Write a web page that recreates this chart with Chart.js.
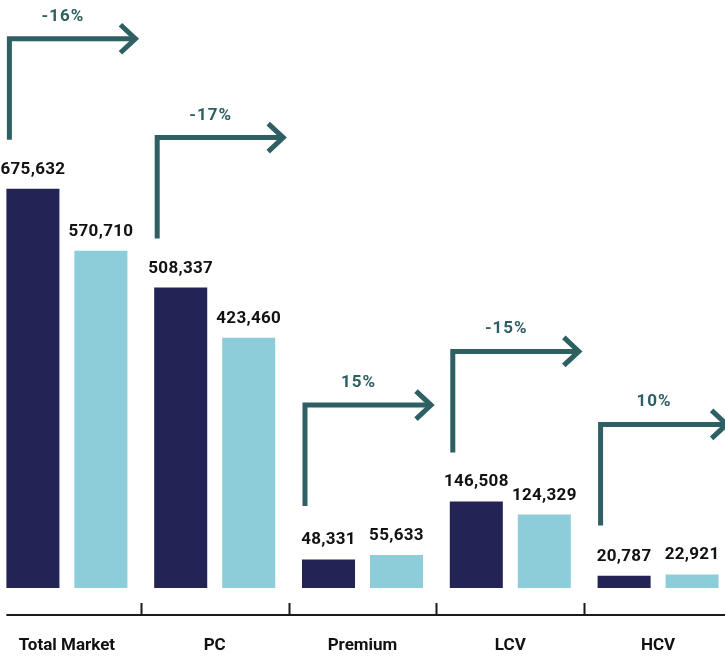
<!DOCTYPE html>
<html>
<head>
<meta charset="utf-8">
<script src="https://cdn.jsdelivr.net/npm/chart.js@4.4.0/dist/chart.umd.min.js"></script>
<style>
  html, body { margin: 0; padding: 0; background: #fff; overflow: hidden; }
  #wrap { width: 739px; height: 657px; margin-left: -7px; }
</style>
</head>
<body>
<div id="wrap"><canvas id="barChart"></canvas></div>
<script>
const categories = ['Total Market', 'PC', 'Premium', 'LCV', 'HCV'];
const previousYear = [675632, 508337, 48331, 146508, 20787];
const currentYear = [570710, 423460, 55633, 124329, 22921];
const changeLabels = ['-16%', '-17%', '15%', '-15%', '10%'];

const darkColor = '#232356';
const lightColor = '#8dcdd9';
const arrowColor = '#2d5f63';
const labelFont = 'Roboto, "Liberation Sans", sans-serif';

// value labels above bars + the growth arrows
const labelsAndArrows = {
  id: 'labelsAndArrows',
  afterDatasetsDraw(chart) {
    const ctx = chart.ctx;
    const dark = chart.getDatasetMeta(0).data;
    const light = chart.getDatasetMeta(1).data;

    ctx.save();
    ctx.textAlign = 'center';
    ctx.textBaseline = 'alphabetic';
    ctx.font = 'bold 17px ' + labelFont;
    ctx.letterSpacing = '0.3px';
    ctx.fillStyle = '#111';
    chart.data.datasets.forEach((ds, i) => {
      chart.getDatasetMeta(i).data.forEach((bar, j) => {
        ctx.fillText(ds.data[j].toLocaleString('en-US'), bar.x, bar.y - 15);
      });
    });

    ctx.strokeStyle = arrowColor;
    ctx.fillStyle = arrowColor;
    ctx.lineWidth = 5;
    ctx.lineJoin = 'miter';
    ctx.font = 'bold 17px ' + labelFont;
    ctx.letterSpacing = '1px';
    dark.forEach((bar, j) => {
      const x0 = bar.x - bar.width / 2 + 3;
      const x1 = light[j].x + light[j].width / 2 + 8;
      const yBottom = Math.min(bar.y, light[j].y) - 49;
      const yTop = yBottom - 101;

      ctx.beginPath();
      ctx.moveTo(x0, yBottom);
      ctx.lineTo(x0, yTop);
      ctx.lineTo(x1 - 3, yTop);
      ctx.stroke();

      ctx.beginPath();
      ctx.moveTo(x1 - 15, yTop - 14);
      ctx.lineTo(x1, yTop);
      ctx.lineTo(x1 - 15, yTop + 14);
      ctx.stroke();

      ctx.fillText(changeLabels[j], (bar.x + light[j].x) / 2 - 4, yTop - 18);
    });
    ctx.restore();
  }
};

// baseline with small separators between categories, plus category names
const categoryAxis = {
  id: 'categoryAxis',
  afterDraw(chart) {
    const ctx = chart.ctx;
    const xs = chart.scales.x;
    const first = chart.getDatasetMeta(0).data[0];
    const yLine = chart.scales.y.getPixelForValue(0) + 27;

    ctx.save();
    ctx.strokeStyle = '#1a1a1a';
    ctx.lineWidth = 2;
    ctx.beginPath();
    ctx.moveTo(first.x - first.width / 2, yLine);
    ctx.lineTo(chart.width, yLine);
    for (let i = 1; i < categories.length; i++) {
      const x = Math.round((xs.getPixelForValue(i - 1) + xs.getPixelForValue(i)) / 2) + 0.5;
      ctx.moveTo(x, yLine);
      ctx.lineTo(x, yLine - 12);
    }
    ctx.stroke();

    ctx.font = 'bold 17px ' + labelFont;
    ctx.fillStyle = '#111';
    ctx.textAlign = 'center';
    ctx.textBaseline = 'middle';
    categories.forEach((name, i) => {
      ctx.fillText(name, xs.getPixelForValue(i), yLine + 31);
    });
    ctx.restore();
  }
};

const ctx = document.getElementById('barChart').getContext('2d');
new Chart(ctx, {
  type: 'bar',
  data: {
    labels: categories,
    datasets: [
      {
        label: 'Previous',
        data: previousYear,
        backgroundColor: darkColor,
        categoryPercentage: 0.92,
        barPercentage: 0.78
      },
      {
        label: 'Current',
        data: currentYear,
        backgroundColor: lightColor,
        categoryPercentage: 0.92,
        barPercentage: 0.78
      }
    ]
  },
  options: {
    responsive: true,
    maintainAspectRatio: false,
    animation: false,
    layout: {
      padding: { left: 0, right: 0, top: 0, bottom: 42 }
    },
    plugins: {
      legend: { display: false },
      tooltip: { enabled: false }
    },
    scales: {
      x: {
        display: false
      },
      y: {
        display: false,
        min: -45700,
        max: 995000
      }
    }
  },
  plugins: [labelsAndArrows, categoryAxis]
});
</script>
</body>
</html>
